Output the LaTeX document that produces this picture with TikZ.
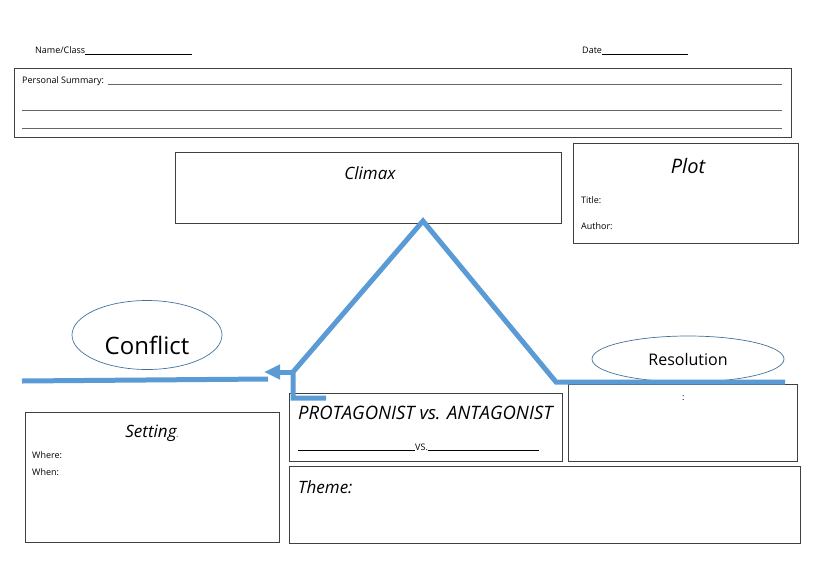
\documentclass[tikz,border=0pt]{standalone}
\usepackage{fontspec}
\setmainfont{Open Sans}
\usetikzlibrary{arrows.meta,positioning,shapes.geometric}
\definecolor{plotblue}{HTML}{5B9BD5}
\definecolor{boxgray}{HTML}{404040}
\definecolor{ovalblue}{HTML}{41719C}

\begin{document}
\begin{tikzpicture}[x=1pt, y=-1pt,
  box/.style={draw=boxgray, line width=0.9pt, anchor=north west, inner sep=0pt},
  oval/.style={draw=ovalblue, ellipse, line width=0.7pt, inner sep=0pt},
  title/.style={font=\fontsize{17}{20}\selectfont\itshape},
  small/.style={font=\fontsize{9}{11}\selectfont, anchor=base west, inner sep=0pt},
  arc/.style={draw=plotblue, line width=5pt},
  writeline/.style={draw=boxgray!80, line width=0.7pt}
]
\useasboundingbox (0,0) rectangle (821,581);

% header
\node[small] (name) at (35,53) {Name/Class\rule[-1.2pt]{107pt}{0.6pt}};
\node[small] (date) at (582,53) {Date\rule[-1.2pt]{86pt}{0.6pt}};

% boxes
\node[box, minimum width=777pt, minimum height=69pt] (summary) at (14,68) {};
\node[box, minimum width=386pt, minimum height=71pt] (climax) at (175,152) {};
\node[box, minimum width=225pt, minimum height=100pt] (plot) at (573,143) {};
\node[box, minimum width=273pt, minimum height=68pt] (versus) at (289,393) {};
\node[box, minimum width=229pt, minimum height=77pt] (resolve) at (568,384) {};
\node[box, minimum width=254pt, minimum height=130pt] (setting) at (25,412) {};
\node[box, minimum width=511pt, minimum height=77pt] (theme) at (289,466) {};

% summary lines
\node[small] (summarylbl) at (22,83) {Personal Summary:};
\draw[writeline] (108,84) -- (782,84);
\draw[writeline] (22,110) -- (782,110);
\draw[writeline] (22,128) -- (782,128);

% box texts
\node[title] (climaxlbl) at (370,173) {Climax};
\node[font=\fontsize{20}{24}\selectfont\itshape] (plotlbl) at (688,166) {Plot};
\node[small] (titlelbl) at (581,203) {Title:};
\node[small] (authorlbl) at (581,229) {Author:};
\node[font=\fontsize{18.5}{22}\selectfont\itshape, anchor=base west, inner sep=0pt] (vslbl) at (298,419) {PROTAGONIST vs. ANTAGONIST};
\node[small] (vsline) at (298,450) {\rule[-1pt]{117pt}{0.6pt}VS.\rule[-1pt]{111pt}{0.6pt}};
\node[small] (colon) at (682,400) {:};
\node[title] (settinglbl) at (152,433) {Setting{\fontsize{8}{8}\selectfont.}};
\node[small] (wherelbl) at (32,458) {Where:};
\node[small] (whenlbl) at (32,475) {When:};
\node[title, anchor=base west, inner sep=0pt] (themelbl) at (298,493) {Theme:};

% ovals
\node[oval, minimum width=150pt, minimum height=69pt] (conflict) at (147,335) {};
\node[font=\fontsize{24}{28}\selectfont] (conflictlbl) at (147,345) {Conflict};
\node[oval, minimum width=192pt, minimum height=46pt, font=\fontsize{16}{19}\selectfont] (resolution) at (688,359) {Resolution};

% plot line
\coordinate (peak) at (423,221);
\coordinate (rise) at (293,372);
\coordinate (fall) at (556,382);
\coordinate (foot) at (293,398);
\coordinate (toe) at (326,398);
\coordinate (tip) at (264,372);
\coordinate (leftstart) at (268,379);
\coordinate (leftend) at (22,381);
\coordinate (rightend) at (785,382);

\draw[arc] (toe) -- (foot) -- (rise) -- (peak) -- (fall) -- (rightend);
\draw[arc, -{Triangle[length=16pt, width=14pt]}] (rise) -- (tip);
\draw[arc] (leftstart) -- (leftend);
\end{tikzpicture}
\end{document}
